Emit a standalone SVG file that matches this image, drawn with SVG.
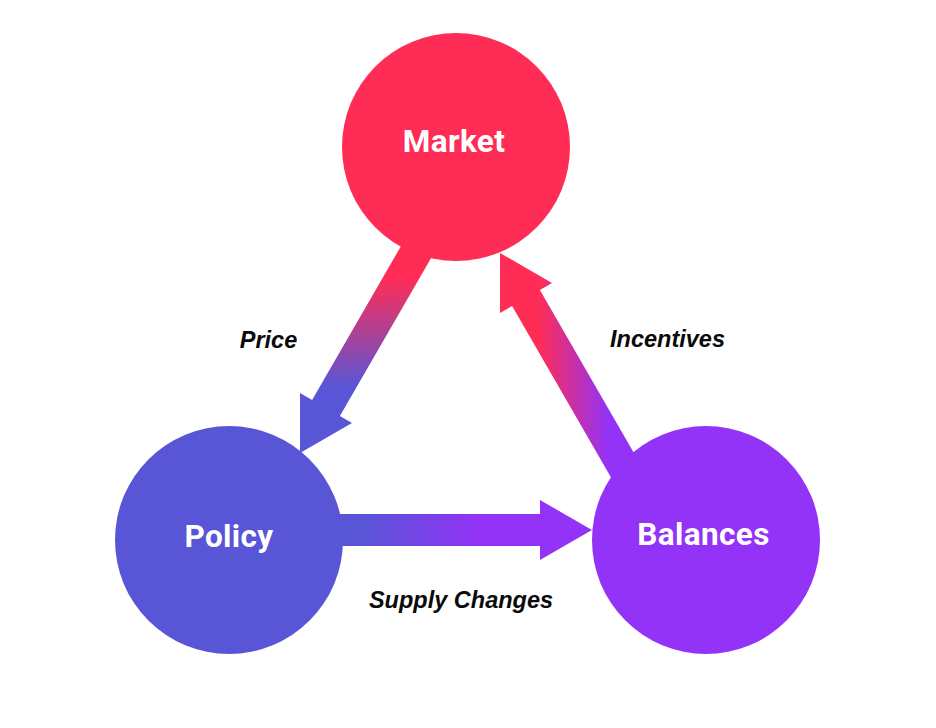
<svg xmlns="http://www.w3.org/2000/svg" width="936" height="728" viewBox="0 0 936 728">
  <style>
    .node-label { font-family: Roboto, "Liberation Sans", Arial, sans-serif; font-weight: 700; font-size: 31.5px; fill: #ffffff; text-anchor: middle; letter-spacing: 0.4px; }
    .edge-label { font-family: "Liberation Sans", Arial, sans-serif; font-weight: 700; font-style: italic; font-size: 23.5px; fill: #0a0a0a; text-anchor: middle; }
  </style>
  <defs>
    <linearGradient id="gPrice" gradientUnits="userSpaceOnUse" x1="0" y1="278" x2="0" y2="388">
      <stop offset="0" stop-color="#FF2D55"/>
      <stop offset="1" stop-color="#5856D6"/>
    </linearGradient>
    <linearGradient id="gIncentives" gradientUnits="userSpaceOnUse" x1="538" y1="0" x2="608" y2="0">
      <stop offset="0" stop-color="#FF2D55"/>
      <stop offset="1" stop-color="#9333F7"/>
    </linearGradient>
    <linearGradient id="gSupply" gradientUnits="userSpaceOnUse" x1="362" y1="0" x2="478" y2="0">
      <stop offset="0" stop-color="#5856D6"/>
      <stop offset="1" stop-color="#9333F7"/>
    </linearGradient>
  </defs>
  <rect width="936" height="728" fill="#ffffff"/>
  <g id="connectors">
    <polygon id="edge-price" fill="url(#gPrice)" points="407.1,235.5 434.9,251.5 339.9,416 352,423 300,453 300,393 312.1,400"/>
    <polygon id="edge-incentives" fill="url(#gIncentives)" points="644.9,472 539.9,290 552,283 500,253 500,313 512.1,306 617.1,488"/>
    <polygon id="edge-supply" fill="url(#gSupply)" points="325,514 540,514 540,500 592,530 540,560 540,546 325,546"/>
  </g>
  <g id="node-market">
    <circle cx="456" cy="147" r="114" fill="#FF2D55"/>
    <text class="node-label" x="454" y="152">Market</text>
  </g>
  <g id="node-policy">
    <circle cx="229" cy="540" r="114" fill="#5856D6"/>
    <text class="node-label" x="229" y="547">Policy</text>
  </g>
  <g id="node-balances">
    <circle cx="706" cy="540" r="114" fill="#9333F7"/>
    <text class="node-label" x="703.5" y="545">Balances</text>
  </g>
  <g id="edge-labels">
    <text class="edge-label" x="268.5" y="347.5">Price</text>
    <text class="edge-label" x="667.5" y="346.5">Incentives</text>
    <text class="edge-label" x="461" y="607.5">Supply Changes</text>
  </g>
</svg>
